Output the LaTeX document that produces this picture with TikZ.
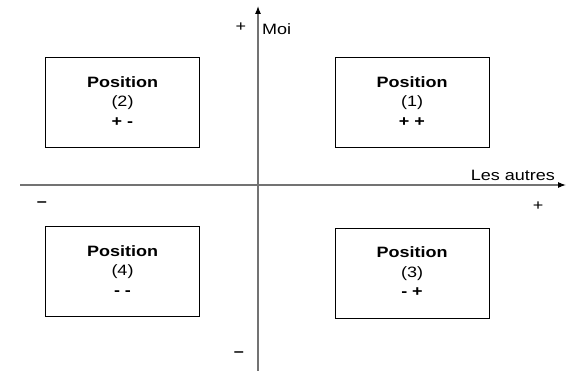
\documentclass[tikz,border=0pt]{standalone}
\usepackage{fontspec}
\setmainfont[FakeStretch=1.2]{Liberation Sans}
\usetikzlibrary{positioning,arrows.meta}
\tikzset{
  quad/.style={rectangle,draw=black,line width=0.9pt,minimum width=154pt,
    minimum height=90pt,inner sep=0pt},
  qtxt/.style={align=center,font=\fontsize{15}{19.5}\selectfont,inner sep=0pt},
  axe/.style={-{Latex[length=8pt,width=6pt,black]},draw=black!55,line width=1.1pt},
  sgn/.style={font=\fontsize{15}{17}\selectfont,inner sep=0pt},
}
\begin{document}
\begin{tikzpicture}[x=1pt,y=-1pt]
  \useasboundingbox (0,0) rectangle (567,371);
  % axes
  \coordinate (xl) at (20,185);
  \coordinate (xr) at (566,185);
  \coordinate (yb) at (258,371);
  \coordinate (yt) at (258,6);
  \draw[axe] (xl) -- (xr);
  \draw[axe] (yb) -- (yt);
  % quadrants
  \node[quad] (q2) at (122.5,102.5) {};
  \node[quad] (q1) at (412,102.5) {};
  \node[quad] (q4) at (122.5,271.5) {};
  \node[quad] (q3) at (412,273) {};
  \node[qtxt,below=19pt of q2.north] (t2) {\textbf{Position}\\(2)\\\textbf{+ -}};
  \node[qtxt,below=19pt of q1.north] (t1) {\textbf{Position}\\(1)\\\textbf{+ +}};
  \node[qtxt,below=19pt of q4.north] (t4) {\textbf{Position}\\(4)\\\textbf{- -}};
  \node[qtxt,below=19pt of q3.north] (t3) {\textbf{Position}\\(3)\\\textbf{- +}};
  % axis labels
  \node[sgn,anchor=base west] (moi) at (262,35) {Moi};
  \node[sgn] (ph) at (241,27) {+};
  \node[sgn,anchor=base east] (autres) at (555,181) {Les autres};
  \node[sgn] (pd) at (538,206) {+};
  \node[sgn] (mg) at (42,204) {\textbf{–}};
  \node[sgn] (mb) at (239,354) {\textbf{–}};
\end{tikzpicture}
\end{document}
